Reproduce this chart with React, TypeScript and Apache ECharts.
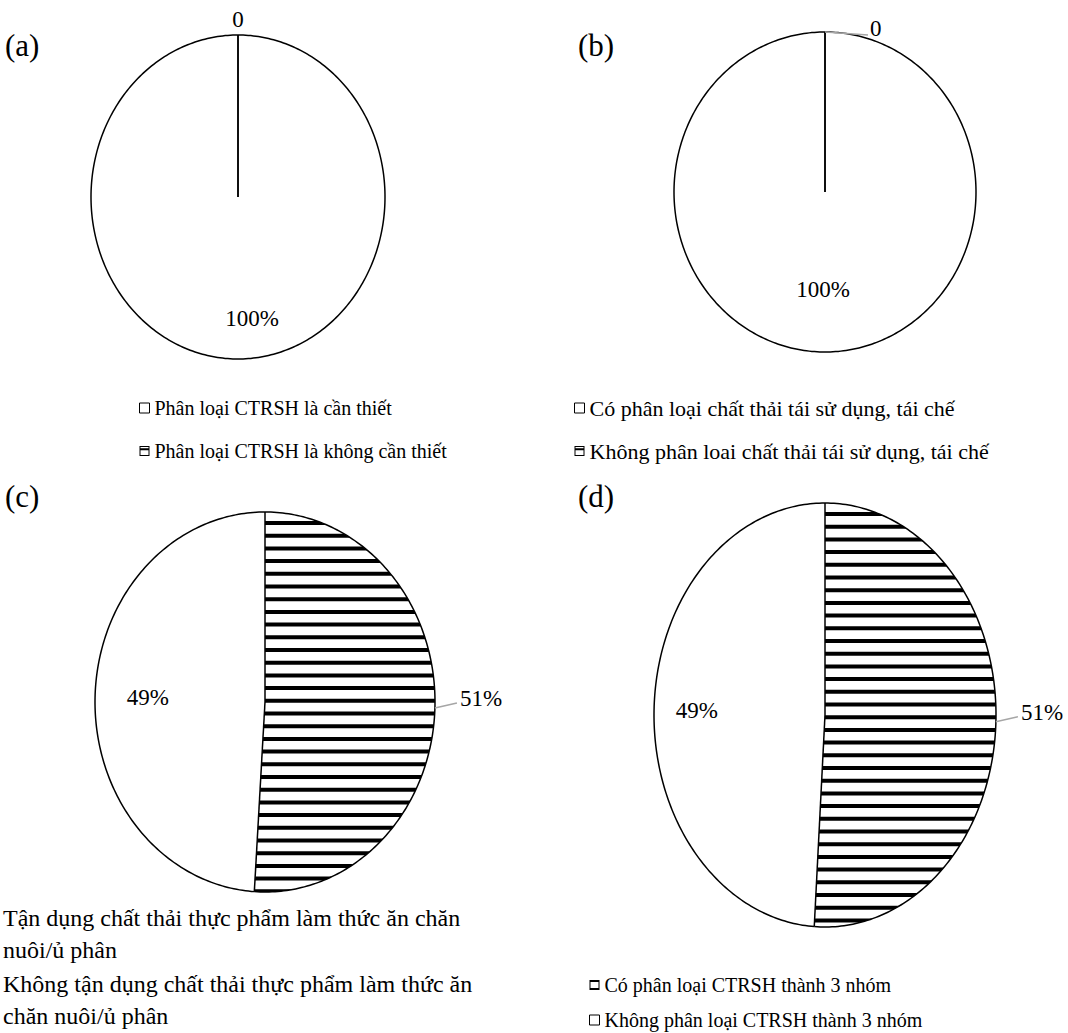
import React, { useEffect, useRef } from "react";
import * as echarts from "echarts";

// ---------- data ----------
const PANEL_TAGS = ["(a)", "(b)", "(c)", "(d)"];

const A_NAMES = ["Phân loại CTRSH là cần thiết", "Phân loại CTRSH là không cần thiết"];
const A_VALUES = [100, 0];

const B_NAMES = [
  "Có phân loại chất thải tái sử dụng, tái chế",
  "Không phân loai chất thải tái sử dụng, tái chế",
];
const B_VALUES = [100, 0];

const C_NAMES = [
  "Tận dụng chất thải thực phẩm làm thức ăn chăn\nnuôi/ủ phân",
  "Không tận dụng chất thải thực phẩm làm thức ăn\nchăn nuôi/ủ phân",
];
const C_VALUES = [51, 49];

const D_NAMES = ["Có phân loại CTRSH thành 3 nhóm", "Không phân loại CTRSH thành 3 nhóm"];
const D_VALUES = [51, 49];

// ---------- style / layout ----------
const FONT = '"Liberation Serif", "Times New Roman", serif';
const LABEL_FS = 23;
const TAG_FS = 31;
const STRIPE_PERIOD = 12.7;
const STRIPE_THICK = 4;

const ICON_PLAIN = "rect";
const ICON_BAND = "path://M0 0H12V12H0Z M1.2 1.2V10.8H10.8V1.2Z M1.2 2.6H10.8V5H1.2Z";
const ICON_STRIPES = "path://M0 0H12V12H0Z M1.2 2.4V9.6H10.8V2.4Z";

type LabelCfg = {
  mode: "inside" | "outside";
  frac?: number;
  dx?: number;
  dy?: number;
  leader?: [number, number] | null;
  tx?: number;
  ty?: number;
  align?: string;
};

const PANELS = [
  {
    tag: PANEL_TAGS[0], tagX: 5, tagY: 27,
    names: A_NAMES, values: A_VALUES, striped: [false, true],
    cx: 238, cy: 197, rx: 147, ry: 162,
    labels: [
      { mode: "inside", frac: 0.75, dx: 14, dy: 0 },
      { mode: "outside", leader: null, tx: 0, ty: -16, align: "center" },
    ] as LabelCfg[],
    legend: { left: 139, top: 396, itemGap: 19, lineHeight: 24, fontSize: 20, itemWidth: 10, icons: [ICON_PLAIN, ICON_BAND] },
  },
  {
    tag: PANEL_TAGS[1], tagX: 578, tagY: 27,
    names: B_NAMES, values: B_VALUES, striped: [false, true],
    cx: 825, cy: 192, rx: 151, ry: 160,
    labels: [
      { mode: "inside", frac: 0.61, dx: -2, dy: 0 },
      { mode: "outside", leader: [43, 3], tx: 45, ty: -4, align: "left" },
    ] as LabelCfg[],
    legend: { left: 574, top: 395, itemGap: 17, lineHeight: 26, fontSize: 22, itemWidth: 10, icons: [ICON_PLAIN, ICON_BAND] },
  },
  {
    tag: PANEL_TAGS[2], tagX: 5, tagY: 478,
    names: C_NAMES, values: C_VALUES, striped: [true, false],
    cx: 265, cy: 702, rx: 170, ry: 190,
    labels: [
      { mode: "outside", leader: [22, -5], tx: 25, ty: -9, align: "left" },
      { mode: "inside", frac: 0.69, dx: 0, dy: 0 },
    ] as LabelCfg[],
    legend: { left: -2, top: 902, itemGap: 2, lineHeight: 32, fontSize: 24, itemWidth: 0, icons: ["none", "none"] },
  },
  {
    tag: PANEL_TAGS[3], tagX: 578, tagY: 478,
    names: D_NAMES, values: D_VALUES, striped: [true, false],
    cx: 825, cy: 715, rx: 171, ry: 212,
    labels: [
      { mode: "outside", leader: [22, -5], tx: 25, ty: -9, align: "left" },
      { mode: "inside", frac: 0.75, dx: 0, dy: 0 },
    ] as LabelCfg[],
    legend: { left: 589, top: 973, itemGap: 11, lineHeight: 24, fontSize: 20, itemWidth: 10, icons: [ICON_STRIPES, ICON_PLAIN] },
  },
];

// ---------- geometry helpers ----------
type P = [number, number];

function edge(cx: number, cy: number, rx: number, ry: number, deg: number): P {
  const a = (deg * Math.PI) / 180;
  return [cx + rx * Math.sin(a), cy - ry * Math.cos(a)];
}

function arcPts(cx: number, cy: number, rx: number, ry: number, a0: number, a1: number): P[] {
  const n = Math.max(2, Math.ceil(Math.abs(a1 - a0)) + 1);
  const pts: P[] = [];
  for (let i = 0; i < n; i++) pts.push(edge(cx, cy, rx, ry, a0 + ((a1 - a0) * i) / (n - 1)));
  return pts;
}

function clipHalf(poly: P[], f: (p: P) => number): P[] {
  const res: P[] = [];
  for (let i = 0; i < poly.length; i++) {
    const A = poly[i];
    const B = poly[(i + 1) % poly.length];
    const fa = f(A);
    const fb = f(B);
    if (fa >= 0) res.push(A);
    if (fa >= 0 !== fb >= 0) {
      const t = fa / (fa - fb);
      res.push([A[0] + (B[0] - A[0]) * t, A[1] + (B[1] - A[1]) * t]);
    }
  }
  return res;
}

function makeRenderer(panelIdx: number, sliceIdx: number) {
  return (params: any, api: any) => {
    const pnl = PANELS[panelIdx];
    const values = pnl.values;
    const total = values.reduce((s, v) => s + v, 0);
    let before = 0;
    for (let k = 0; k < sliceIdx; k++) before += values[k];
    const v = Number(api.value(0));
    const a0 = (before / total) * 360;
    const a1 = ((before + v) / total) * 360;
    const { cx, cy, rx, ry } = pnl;
    const children: any[] = [];

    if (v > 0) {
      const arc = arcPts(cx, cy, rx, ry, a0, a1);
      const poly: P[] = a1 - a0 >= 359.999 ? arc : [[cx, cy], ...arc];
      children.push({
        type: "polygon",
        shape: { points: poly },
        style: { fill: "#ffffff", stroke: "none" },
        z2: 0,
      });
      if (pnl.striped[sliceIdx]) {
        const top = cy - ry;
        for (let y = top + 9; y < cy + ry; y += STRIPE_PERIOD) {
          const y0 = y;
          const y1 = y + STRIPE_THICK;
          let band = clipHalf(poly, (p) => p[1] - y0);
          band = clipHalf(band, (p) => y1 - p[1]);
          if (band.length >= 3) {
            children.push({
              type: "polygon",
              shape: { points: band },
              style: { fill: "#000000", stroke: "none" },
              z2: 1,
            });
          }
        }
      }
      children.push({
        type: "polyline",
        shape: { points: arc },
        style: { stroke: "#000000", lineWidth: 1.5, fill: "none" },
        z2: 10,
      });
    }
    const sp = edge(cx, cy, rx, ry, a0);
    children.push({
      type: "line",
      shape: { x1: cx, y1: cy, x2: sp[0], y2: sp[1] },
      style: { stroke: "#000000", lineWidth: 1.5 },
      z2: 10,
    });

    // label
    const cfg = pnl.labels[sliceIdx];
    const text = v === 0 ? "0" : `${v}%`;
    const mid = (a0 + a1) / 2;
    const font = `${LABEL_FS}px ${FONT}`;
    if (cfg.mode === "inside") {
      const e = edge(0, 0, rx, ry, mid);
      children.push({
        type: "text",
        x: cx + e[0] * (cfg.frac || 0.5) + (cfg.dx || 0),
        y: cy + e[1] * (cfg.frac || 0.5) + (cfg.dy || 0),
        style: { text, font, fill: "#000000", align: "center", verticalAlign: "middle" },
        z2: 20,
      });
    } else {
      const ep = edge(cx, cy, rx, ry, mid);
      if (cfg.leader) {
        children.push({
          type: "line",
          shape: { x1: ep[0], y1: ep[1], x2: ep[0] + cfg.leader[0], y2: ep[1] + cfg.leader[1] },
          style: { stroke: "#a6a6a6", lineWidth: 1.5 },
          z2: 11,
        });
      }
      children.push({
        type: "text",
        x: ep[0] + (cfg.tx || 0),
        y: ep[1] + (cfg.ty || 0),
        style: { text, font, fill: "#000000", align: cfg.align || "left", verticalAlign: "middle" },
        z2: 20,
      });
    }
    return { type: "group", children };
  };
}

function buildOption() {
  const series: any[] = [];
  const legends: any[] = [];
  const titles: any[] = [];
  PANELS.forEach((pnl, pi) => {
    titles.push({
      text: pnl.tag,
      left: pnl.tagX,
      top: pnl.tagY,
      padding: 0,
      textStyle: { fontFamily: FONT, fontSize: TAG_FS, fontWeight: "normal", color: "#000", lineHeight: 36 },
    });
    pnl.names.forEach((name, si) => {
      series.push({
        type: "custom",
        name,
        coordinateSystem: "none",
        silent: true,
        data: [[pnl.values[si]]],
        renderItem: makeRenderer(pi, si),
      });
    });
    const lg = pnl.legend;
    legends.push({
      orient: "vertical",
      left: lg.left,
      top: lg.top,
      padding: 0,
      itemGap: lg.itemGap,
      itemWidth: lg.itemWidth,
      itemHeight: lg.itemWidth === 0 ? 0 : 10,
      selectedMode: false,
      textStyle: { fontFamily: FONT, fontSize: lg.fontSize, color: "#000", lineHeight: lg.lineHeight },
      data: pnl.names.map((name, si) => {
        const icon = lg.icons[si];
        if (icon === "none") {
          return { name, icon: "rect", itemStyle: { opacity: 0 } };
        }
        if (icon === ICON_PLAIN) {
          return { name, icon, itemStyle: { color: "#ffffff", borderColor: "#000000", borderWidth: 1 } };
        }
        return { name, icon, itemStyle: { color: "#000000", borderWidth: 0 } };
      }),
    });
  });
  return {
    animation: false,
    backgroundColor: "#ffffff",
    title: titles,
    legend: legends,
    series,
  };
}

export default function App() {
  const ref = useRef<HTMLDivElement>(null);
  useEffect(() => {
    if (!ref.current) return;
    const chart = echarts.init(ref.current, null, { renderer: "svg" });
    chart.setOption(buildOption() as any);
    return () => chart.dispose();
  }, []);
  return (
    <div
      ref={ref}
      style={{ position: "fixed", left: 0, top: 0, width: 1068, height: 1033, background: "#ffffff" }}
    />
  );
}
